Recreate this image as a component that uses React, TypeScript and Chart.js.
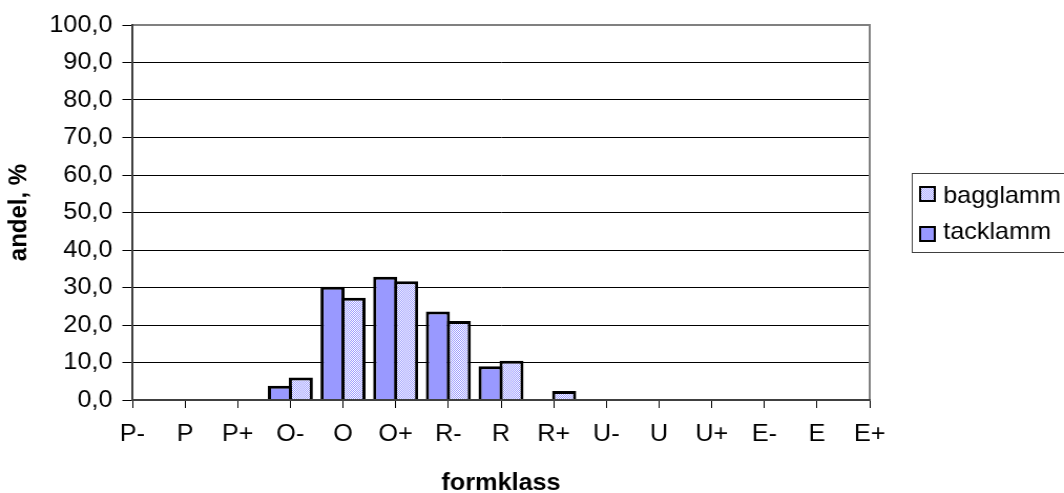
import React, { useEffect, useRef } from "react";
import { Chart, registerables } from "chart.js";

Chart.register(...registerables);

const categories = ["P-", "P", "P+", "O-", "O", "O+", "R-", "R", "R+", "U-", "U", "U+", "E-", "E", "E+"];
const tacklamm = [0, 0, 0, 3.8, 30.2, 32.9, 23.6, 9.0, 0, 0, 0, 0, 0, 0, 0];
const bagglamm = [0, 0, 0, 6.0, 27.3, 31.7, 21.1, 10.5, 2.4, 0, 0, 0, 0, 0, 0];
const seriesNames = ["tacklamm", "bagglamm"];
const yTickLabels = ["0,0", "10,0", "20,0", "30,0", "40,0", "50,0", "60,0", "70,0", "80,0", "90,0", "100,0"];
const xTitle = "formklass";
const yTitle = "andel, %";

const PAGE_W = 1064;
const PAGE_H = 493;
const SX = 1.05;
const W = Math.round(PAGE_W / SX);
const FONT = "'Liberation Sans', Arial, sans-serif";
const FS = 24;

function makePattern(): CanvasPattern | string {
  const c = document.createElement("canvas");
  c.width = 4;
  c.height = 4;
  const g = c.getContext("2d");
  if (!g) return "#ccccff";
  g.fillStyle = "#ffffff";
  g.fillRect(0, 0, 4, 4);
  g.fillStyle = "#9999ff";
  for (let y = 0; y < 4; y++) {
    for (let x = 0; x < 4; x++) {
      if ((x + y) % 2 === 0) g.fillRect(x, y, 1, 1);
    }
  }
  return g.createPattern(c, "repeat") || "#ccccff";
}

export default function App() {
  const ref = useRef<HTMLCanvasElement>(null);

  useEffect(() => {
    if (!ref.current) return;
    const pattern = makePattern();

    const framePlugin = {
      id: "frame",
      afterDatasetsDraw(chart: any) {
        const { ctx, chartArea: a } = chart;
        ctx.save();
        ctx.strokeStyle = "#808080";
        ctx.lineWidth = 2;
        ctx.beginPath();
        ctx.moveTo(a.left, a.top);
        ctx.lineTo(a.right, a.top);
        ctx.lineTo(a.right, a.bottom);
        ctx.stroke();
        ctx.restore();
      },
      afterDraw(chart: any) {
        const { ctx } = chart;
        const ds = chart.data.datasets;
        ctx.save();
        ctx.strokeStyle = "#404040";
        ctx.lineWidth = 1;
        ctx.strokeRect(868.5, 173.5, 160, 79);
        const items = [ds[1], ds[0]];
        items.forEach((d: any, i: number) => {
          const sy = 186 + i * 40;
          ctx.fillStyle = "#000";
          ctx.fillRect(875, sy, 16, 16);
          ctx.fillStyle = d.backgroundColor;
          ctx.fillRect(877, sy + 2, 12, 12);
          ctx.fillStyle = "#000";
          ctx.font = `${FS}px ${FONT}`;
          ctx.textBaseline = "alphabetic";
          ctx.textAlign = "left";
          ctx.fillText(d.label, 898, 203 + i * 36);
        });
        ctx.restore();
      },
    };

    const chart = new Chart(ref.current, {
      type: "bar",
      data: {
        labels: categories,
        datasets: [
          {
            label: seriesNames[0],
            data: tacklamm,
            backgroundColor: "#9999ff",
            borderColor: "#000000",
            borderWidth: 3,
            categoryPercentage: 0.795,
            barPercentage: 1.15,
          },
          {
            label: seriesNames[1],
            data: bagglamm,
            backgroundColor: pattern as any,
            borderColor: "#000000",
            borderWidth: 3,
            categoryPercentage: 0.795,
            barPercentage: 1.15,
          },
        ],
      },
      options: {
        responsive: false,
        animation: false,
        devicePixelRatio: 1,
        layout: { padding: { top: 25, right: W - 828, left: 0, bottom: 0 } },
        plugins: {
          legend: { display: false },
          tooltip: { enabled: false },
        },
        scales: {
          x: {
            type: "category",
            offset: false,
            grid: {
              display: true,
              drawOnChartArea: false,
              drawTicks: true,
              tickLength: 8,
              color: "#000000",
              offset: false,
            },
            border: { display: true, color: "#404040", width: 2, z: 1 },
            ticks: {
              font: { family: FONT, size: FS },
              color: "#000000",
              maxRotation: 0,
              autoSkip: false,
              padding: 12,
            },
            title: {
              display: true,
              text: xTitle,
              font: { family: FONT, size: FS, weight: "bold" },
              color: "#000000",
              padding: { top: 0, bottom: -5 },
            },
            afterFit: (s: any) => {
              s.height = 93;
            },
          },
          y: {
            min: 0,
            max: 100,
            ticks: {
              stepSize: 10,
              callback: (_v: any, i: number) => yTickLabels[i],
              font: { family: FONT, size: FS },
              color: "#000000",
              padding: 9.5,
            },
            grid: { color: "#000000", lineWidth: 1, tickLength: 9.5, drawTicks: true },
            border: { display: true, color: "#404040", width: 2, z: 1 },
            title: {
              display: true,
              text: yTitle,
              font: { family: FONT, size: FS, weight: "bold" },
              color: "#000000",
              padding: { top: 3.5, bottom: 0 },
            },
            afterFit: (s: any) => {
              s.width = 126;
            },
          },
        },
      } as any,
      plugins: [framePlugin],
    });

    return () => chart.destroy();
  }, []);

  return (
    <div style={{ position: "absolute", left: 0, top: 0, width: PAGE_W, height: PAGE_H, background: "#fff" }}>
      <canvas
        ref={ref}
        width={W}
        height={PAGE_H}
        style={{ width: PAGE_W + "px", height: PAGE_H + "px", display: "block" }}
      />
    </div>
  );
}
